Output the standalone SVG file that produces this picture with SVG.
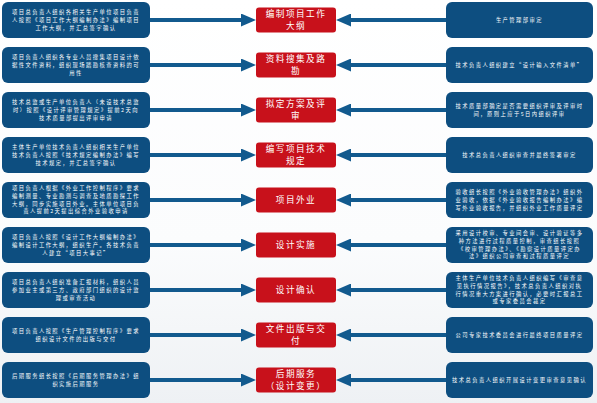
<svg xmlns="http://www.w3.org/2000/svg" width="597" height="403" viewBox="0 0 597 403">
<defs>
<linearGradient id="bg" x1="0" y1="0" x2="0" y2="1">
<stop offset="0" stop-color="#ffffff"/>
<stop offset="0.6" stop-color="#fbfcfd"/>
<stop offset="1" stop-color="#eef1f4"/>
</linearGradient>
<marker id="ah" viewBox="0 0 15 13" refX="2" refY="6.5" markerWidth="15" markerHeight="13" markerUnits="userSpaceOnUse" orient="auto">
<polygon points="0,0 15,6.5 0,13" fill="#125a8e"/>
</marker>
<style>
.bx{fill:#0d4e80}
.rd{fill:#c8111b}
.t{font-family:"Noto Sans CJK SC","Noto Sans",sans-serif;font-size:5.3px;letter-spacing:1.45px;fill:#ffffff;text-anchor:middle}
.rt{font-family:"Noto Sans CJK SC","Noto Sans",sans-serif;font-size:8.6px;letter-spacing:1.5px;fill:#ffffff;text-anchor:middle}
.ar{stroke:#125a8e;stroke-width:4;fill:none;marker-end:url(#ah)}
</style>
</defs>
<rect width="597" height="403" fill="url(#bg)"/>
<g id="connectors">
<path class="ar" d="M150 20H243"/><path class="ar" d="M446 20H349"/>
<path class="ar" d="M150 65H243"/><path class="ar" d="M446 65H349"/>
<path class="ar" d="M150 110H243"/><path class="ar" d="M446 110H349"/>
<path class="ar" d="M150 155H243"/><path class="ar" d="M446 155H349"/>
<path class="ar" d="M150 200H243"/><path class="ar" d="M446 200H349"/>
<path class="ar" d="M150 245H243"/><path class="ar" d="M446 245H349"/>
<path class="ar" d="M150 290H243"/><path class="ar" d="M446 290H349"/>
<path class="ar" d="M150 335H243"/><path class="ar" d="M446 335H349"/>
<path class="ar" d="M150 380H243"/><path class="ar" d="M446 380H349"/>
</g>

<g id="L1" transform="translate(0,20)"><rect class="bx" x="2" y="-18" width="148" height="36" rx="6"/>
<text class="t" x="76" y="-5.8"><tspan x="76">项目总负责人组织各相关生产单位项目负责</tspan><tspan x="76" dy="7.7">人按照《项目工作大纲编制办法》编制项目</tspan><tspan x="76" dy="7.7">工作大纲，并汇总签字确认</tspan></text></g>
<g id="C1" transform="translate(0,20)"><rect class="rd" x="256" y="-12.5" width="80" height="25" rx="3"/>
<text class="rt" x="296" y="-3.15"><tspan x="296">编制项目工作</tspan><tspan x="296" dy="12.5">大纲</tspan></text></g>
<g id="R1" transform="translate(0,20)"><rect class="bx" x="446" y="-18" width="147" height="36" rx="6"/>
<text class="t" x="519.5" y="1.9">生产管理部审定</text></g>

<g id="L2" transform="translate(0,65)"><rect class="bx" x="2" y="-18" width="148" height="36" rx="6"/>
<text class="t" x="76" y="-5.8"><tspan x="76">项目负责人组织各专业人员搜集项目设计依</tspan><tspan x="76" dy="7.7">据性文件资料，组织现场踏勘核查资料的可</tspan><tspan x="76" dy="7.7">用性</tspan></text></g>
<g id="C2" transform="translate(0,65)"><rect class="rd" x="256" y="-12.5" width="80" height="25" rx="3"/>
<text class="rt" x="296" y="-3.15"><tspan x="296">资料搜集及路</tspan><tspan x="296" dy="12.5">勘</tspan></text></g>
<g id="R2" transform="translate(0,65)"><rect class="bx" x="446" y="-18" width="147" height="36" rx="6"/>
<text class="t" x="519.5" y="1.9">技术负责人组织建立“设计输入文件清单”</text></g>

<g id="L3" transform="translate(0,110)"><rect class="bx" x="2" y="-18" width="148" height="36" rx="6"/>
<text class="t" x="76" y="-5.8"><tspan x="76">技术总监或生产单位负责人（未设技术总监</tspan><tspan x="76" dy="7.7">时）按照《设计评审管理规定》提前2天向</tspan><tspan x="76" dy="7.7">技术质量部提出评审申请</tspan></text></g>
<g id="C3" transform="translate(0,110)"><rect class="rd" x="256" y="-12.5" width="80" height="25" rx="3"/>
<text class="rt" x="296" y="-3.15"><tspan x="296">拟定方案及评</tspan><tspan x="296" dy="12.5">审</tspan></text></g>
<g id="R3" transform="translate(0,110)"><rect class="bx" x="446" y="-18" width="147" height="36" rx="6"/>
<text class="t" x="519.5" y="-1.95"><tspan x="519.5">技术质量部确定是否需要组织评审及评审时</tspan><tspan x="519.5" dy="7.7">间，原则上应于5日内组织评审</tspan></text></g>

<g id="L4" transform="translate(0,155)"><rect class="bx" x="2" y="-18" width="148" height="36" rx="6"/>
<text class="t" x="76" y="-5.8"><tspan x="76">主体生产单位技术负责人组织相关生产单位</tspan><tspan x="76" dy="7.7">技术负责人按照《技术规定编制办法》编写</tspan><tspan x="76" dy="7.7">技术规定，并汇总签字确认</tspan></text></g>
<g id="C4" transform="translate(0,155)"><rect class="rd" x="256" y="-12.5" width="80" height="25" rx="3"/>
<text class="rt" x="296" y="-3.15"><tspan x="296">编写项目技术</tspan><tspan x="296" dy="12.5">规定</tspan></text></g>
<g id="R4" transform="translate(0,155)"><rect class="bx" x="446" y="-18" width="147" height="36" rx="6"/>
<text class="t" x="519.5" y="1.9">技术总负责人组织审查并最终签署审定</text></g>

<g id="L5" transform="translate(0,200)"><rect class="bx" x="2" y="-18" width="148" height="36" rx="6"/>
<text class="t" x="76" y="-9.65"><tspan x="76">项目负责人根据《外业工作控制程序》要求</tspan><tspan x="76" dy="7.7">编制测量、专业勘测与调查及地质勘探工作</tspan><tspan x="76" dy="7.7">大纲，同步实施项目外业。主体单位项目负</tspan><tspan x="76" dy="7.7">责人提前2天提出综合外业验收申请</tspan></text></g>
<g id="C5" transform="translate(0,200)"><rect class="rd" x="256" y="-12.5" width="80" height="25" rx="3"/>
<text class="rt" x="296" y="3.1">项目外业</text></g>
<g id="R5" transform="translate(0,200)"><rect class="bx" x="446" y="-18" width="147" height="36" rx="6"/>
<text class="t" x="519.5" y="-5.8"><tspan x="519.5">验收组长按照《外业验收管理办法》组织外</tspan><tspan x="519.5" dy="7.7">业验收，依据《外业验收报告编制办法》编</tspan><tspan x="519.5" dy="7.7">写外业验收报告，并组织外业工作质量评定</tspan></text></g>

<g id="L6" transform="translate(0,245)"><rect class="bx" x="2" y="-18" width="148" height="36" rx="6"/>
<text class="t" x="76" y="-5.8"><tspan x="76">项目负责人按照《设计工作大纲编制办法》</tspan><tspan x="76" dy="7.7">编制设计工作大纲，组织生产。各技术负责</tspan><tspan x="76" dy="7.7">人建立“项目大事记”</tspan></text></g>
<g id="C6" transform="translate(0,245)"><rect class="rd" x="256" y="-12.5" width="80" height="25" rx="3"/>
<text class="rt" x="296" y="3.1">设计实施</text></g>
<g id="R6" transform="translate(0,245)"><rect class="bx" x="446" y="-18" width="147" height="36" rx="6"/>
<text class="t" x="519.5" y="-9.65"><tspan x="519.5">采用设计校审、专业间会审、设计验证等多</tspan><tspan x="519.5" dy="7.7">种方法进行过程质量控制，审查组长按照</tspan><tspan x="519.5" dy="7.7">《校审管理办法》、《勘察设计质量评定办</tspan><tspan x="519.5" dy="7.7">法》组织公司审查和过程质量评定</tspan></text></g>

<g id="L7" transform="translate(0,290)"><rect class="bx" x="2" y="-18" width="148" height="36" rx="6"/>
<text class="t" x="76" y="-5.8"><tspan x="76">项目总负责人组织准备汇报材料，组织人员</tspan><tspan x="76" dy="7.7">参加业主或第三方、政府部门组织的设计监</tspan><tspan x="76" dy="7.7">理或审查活动</tspan></text></g>
<g id="C7" transform="translate(0,290)"><rect class="rd" x="256" y="-12.5" width="80" height="25" rx="3"/>
<text class="rt" x="296" y="3.1">设计确认</text></g>
<g id="R7" transform="translate(0,290)"><rect class="bx" x="446" y="-18" width="147" height="36" rx="6"/>
<text class="t" x="519.5" y="-9.65"><tspan x="519.5">主体生产单位技术负责人组织编写《审查意</tspan><tspan x="519.5" dy="7.7">见执行情况报告》，技术总负责人组织对执</tspan><tspan x="519.5" dy="7.7">行情况重大方案进行确认，必要时汇报总工</tspan><tspan x="519.5" dy="7.7">或专家委员会裁定</tspan></text></g>

<g id="L8" transform="translate(0,335)"><rect class="bx" x="2" y="-18" width="148" height="36" rx="6"/>
<text class="t" x="76" y="-1.95"><tspan x="76">项目负责人按照《生产管理控制程序》要求</tspan><tspan x="76" dy="7.7">组织设计文件的出版与交付</tspan></text></g>
<g id="C8" transform="translate(0,335)"><rect class="rd" x="256" y="-12.5" width="80" height="25" rx="3"/>
<text class="rt" x="296" y="-3.15"><tspan x="296">文件出版与交</tspan><tspan x="296" dy="12.5">付</tspan></text></g>
<g id="R8" transform="translate(0,335)"><rect class="bx" x="446" y="-18" width="147" height="36" rx="6"/>
<text class="t" x="519.5" y="1.9">公司专家技术委员会进行最终项目质量评定</text></g>

<g id="L9" transform="translate(0,380)"><rect class="bx" x="2" y="-18" width="148" height="36" rx="6"/>
<text class="t" x="76" y="-1.95"><tspan x="76">后期服务组长按照《后期服务管理办法》组</tspan><tspan x="76" dy="7.7">织实施后期服务</tspan></text></g>
<g id="C9" transform="translate(0,380)"><rect class="rd" x="256" y="-12.5" width="80" height="25" rx="3"/>
<text class="rt" x="296" y="-3.15"><tspan x="296">后期服务</tspan><tspan x="296" dy="12.5">（设计变更）</tspan></text></g>
<g id="R9" transform="translate(0,380)"><rect class="bx" x="446" y="-18" width="147" height="36" rx="6"/>
<text class="t" x="519.5" y="1.9">技术总负责人组织开展设计变更审查意见确认</text></g>
</svg>
